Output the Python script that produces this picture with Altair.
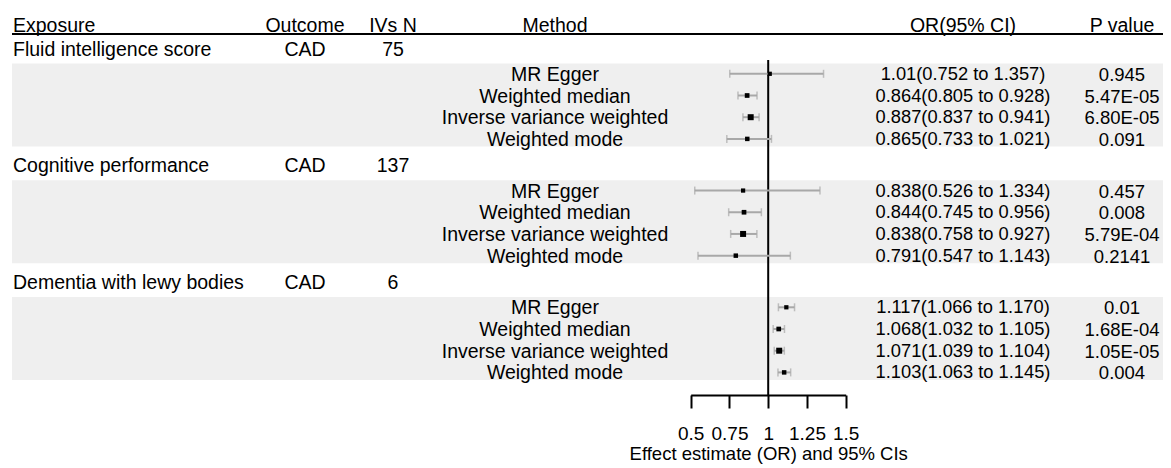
import altair as alt
import pandas as pd

# ---------------- data ----------------
exposures = ["Fluid intelligence score", "Cognitive performance", "Dementia with lewy bodies"]
outcomes = ["CAD", "CAD", "CAD"]
iv_n = ["75", "137", "6"]
methods = ["MR Egger", "Weighted median", "Inverse variance weighted", "Weighted mode"]
or_est = [["1.01", "0.864", "0.887", "0.865"],
          ["0.838", "0.844", "0.838", "0.791"],
          ["1.117", "1.068", "1.071", "1.103"]]
or_lo = [["0.752", "0.805", "0.837", "0.733"],
         ["0.526", "0.745", "0.758", "0.547"],
         ["1.066", "1.032", "1.039", "1.063"]]
or_hi = [["1.357", "0.928", "0.941", "1.021"],
         ["1.334", "0.956", "0.927", "1.143"],
         ["1.170", "1.105", "1.104", "1.145"]]
p_vals = [["0.945", "5.47E-05", "6.80E-05", "0.091"],
          ["0.457", "0.008", "5.79E-04", "0.2141"],
          ["0.01", "1.68E-04", "1.05E-05", "0.004"]]
headers = ["Exposure", "Outcome", "IVs N", "Method", "OR(95% CI)", "P value"]
x_ticks = [0.5, 0.75, 1, 1.25, 1.5]

# ---------------- layout (pixels, chart coords) ----------------
W, H = 1155, 387
E0, GROUP, M_OFF, M_STEP = 40.5, 116.75, 25.3, 21.7
BAND_TOP, BAND_BOT = 15, 98
HEADER_Y = 17
UNDERLINE_Y = 26
LEFT, RIGHT = 4, 1155
COLX = {"Exposure": 5, "Outcome": 297, "IVs N": 385, "Method": 547, "OR(95% CI)": 955, "P value": 1114}
COLFS = {"Exposure": 19.5, "Outcome": 19.5, "IVs N": 19.5, "Method": 19.5, "OR(95% CI)": 18.3, "P value": 18.5}
FONT = "Liberation Sans"
FS = 19.5
PT_SIZE = {"MR Egger": 18, "Weighted median": 22, "Inverse variance weighted": 36, "Weighted mode": 20}

exp_rows, met_rows, bands = [], [], []
for g, ex in enumerate(exposures):
    ey = E0 + g * GROUP
    exp_rows.append({"y": ey, "exposure": ex, "outcome": outcomes[g], "n": iv_n[g]})
    bands.append({"y": ey + BAND_TOP, "y2": ey + BAND_BOT})
    for k, m in enumerate(methods):
        my = ey + M_OFF + k * M_STEP
        met_rows.append({
            "y": my, "method": m,
            "est": float(or_est[g][k]), "lo": float(or_lo[g][k]), "hi": float(or_hi[g][k]),
            "ortxt": f"{or_est[g][k]}({or_lo[g][k]} to {or_hi[g][k]})",
            "p": p_vals[g][k], "size": PT_SIZE[m],
        })
exp_df = pd.DataFrame(exp_rows)
met_df = pd.DataFrame(met_rows)
band_df = pd.DataFrame(bands)
head_df = pd.DataFrame({"h": headers, "y": [HEADER_Y] * len(headers)})

yscale = alt.Scale(domain=[0, H], range=[0, H])
xscale = alt.Scale(domain=[0.5, 1.5], range=[682.7, 837.7])


def Y(f="y"):
    return alt.Y(f"{f}:Q", scale=yscale, axis=None)


bands_l = alt.Chart(band_df).mark_rect(color="#efefef").encode(
    x=alt.value(LEFT), x2=alt.value(RIGHT), y=Y("y"), y2="y2:Q")

underline = alt.Chart(head_df.head(1)).mark_rule(color="black", strokeWidth=2).encode(
    x=alt.value(LEFT), x2=alt.value(RIGHT), y=alt.value(UNDERLINE_Y))


def txt(df, field, col, align="center"):
    return alt.Chart(df).mark_text(font=FONT, fontSize=COLFS[col], color="black", align=align,
                                   baseline="middle", dy=1).encode(
        x=alt.value(COLX[col]), y=Y(), text=f"{field}:N")


layers = [bands_l, underline]
for h in headers:
    layers.append(alt.Chart(head_df[head_df.h == h]).mark_text(
        font=FONT, fontSize=FS, color="black", align="left" if h == "Exposure" else "center",
        baseline="middle", dy=1).encode(x=alt.value(COLX[h]), y=Y(), text="h:N"))
layers += [
    txt(exp_df, "exposure", "Exposure", "left"),
    txt(exp_df, "outcome", "Outcome"),
    txt(exp_df, "n", "IVs N"),
    txt(met_df, "method", "Method"),
    txt(met_df, "ortxt", "OR(95% CI)"),
    txt(met_df, "p", "P value"),
]

ref_df = pd.DataFrame({"x": [1.0], "y": [E0 + 11.5], "y2": [H]})
refline = alt.Chart(ref_df).mark_rule(color="black", strokeWidth=2).encode(
    x=alt.X("x:Q", scale=xscale,
            axis=alt.Axis(values=x_ticks, format="~g", title="Effect estimate (OR) and 95% CIs",
                          domainColor="black", domainWidth=2, tickColor="black", tickWidth=2,
                          tickSize=13, labelFontSize=19, labelFont=FONT, labelColor="black",
                          labelPadding=16, titleFont=FONT, titleFontSize=18.5, titleFontWeight="normal",
                          titleColor="black", titlePadding=1, grid=False, labelFlush=False,
                          labelOverlap=False)),
    y=Y("y"), y2="y2:Q")

ci = alt.Chart(met_df).mark_rule(color="#a8a8a8", strokeWidth=2).encode(
    x=alt.X("lo:Q", scale=xscale), x2="hi:Q", y=Y())
cap_lo = alt.Chart(met_df).mark_tick(color="#a8a8a8", orient="vertical", size=8, thickness=1.5).encode(
    x=alt.X("lo:Q", scale=xscale), y=Y())
cap_hi = alt.Chart(met_df).mark_tick(color="#a8a8a8", orient="vertical", size=8, thickness=1.5).encode(
    x=alt.X("hi:Q", scale=xscale), y=Y())
pts = alt.Chart(met_df).mark_square(color="black", opacity=1).encode(
    x=alt.X("est:Q", scale=xscale), y=Y(),
    size=alt.Size("size:Q", scale=None, legend=None))

layers += [refline, ci, cap_lo, cap_hi, pts]

chart = alt.layer(*layers).properties(
    width=W, height=H,
    autosize=alt.AutoSizeParams(type="none"),
    padding={"left": 0, "top": 0, "right": 0, "bottom": 70},
).configure(background="white").configure_view(stroke=None)

chart.save("out.html", embed_options={"renderer": "svg", "actions": False})
